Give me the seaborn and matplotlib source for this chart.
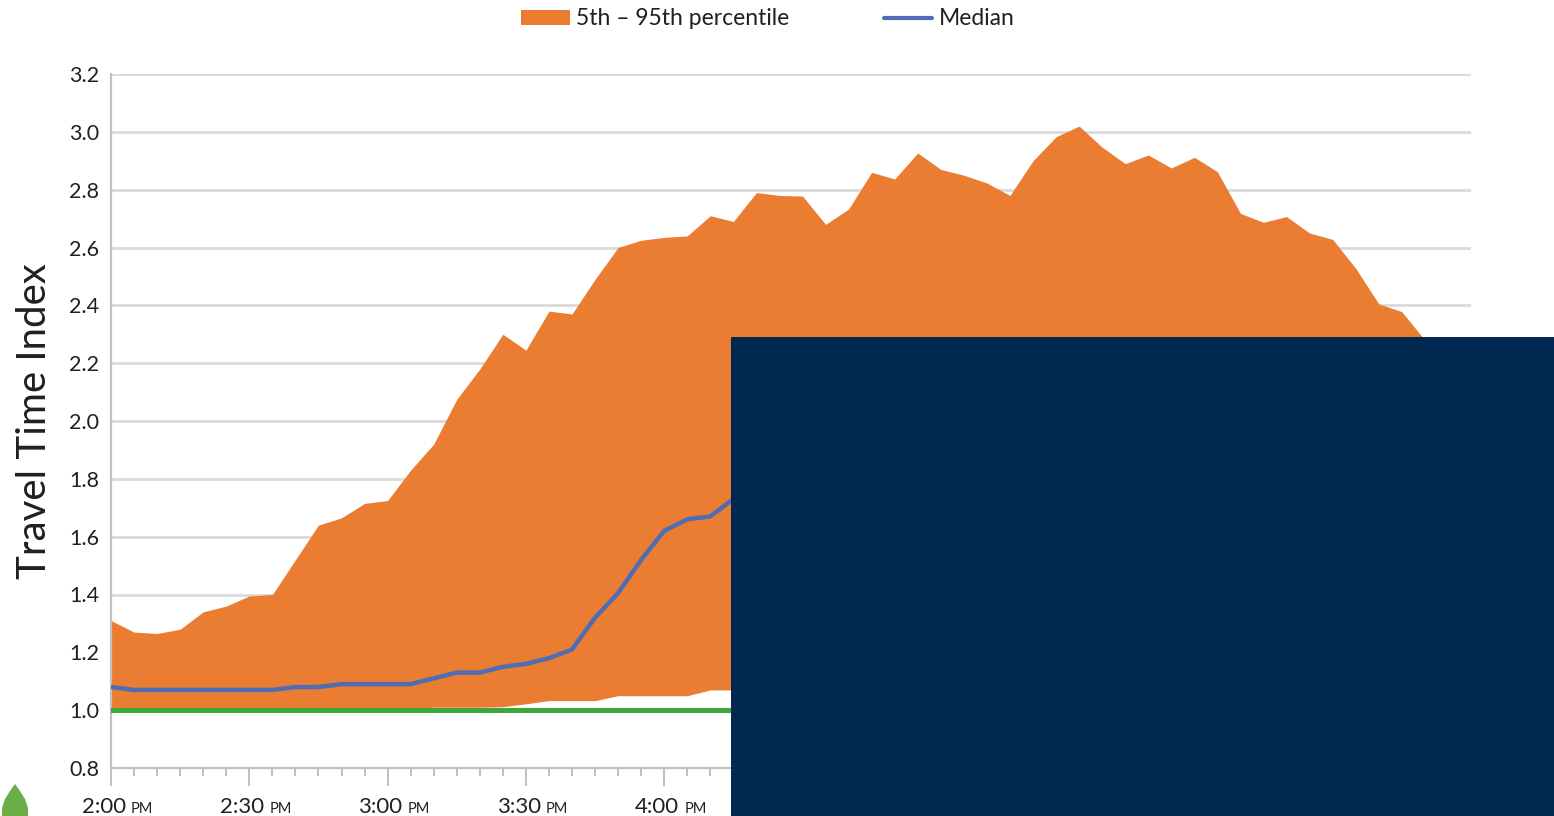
import numpy as np
import pandas as pd
import matplotlib
matplotlib.use("Agg")
import matplotlib.pyplot as plt
import seaborn as sns
from matplotlib.patches import Patch, Rectangle, Polygon
from matplotlib.lines import Line2D
from matplotlib.ticker import MultipleLocator, NullFormatter

# ---------------- data ----------------
# minutes after 2:00 PM, 5-minute intervals (2:00 PM .. 6:55 PM)
minutes = np.arange(0, 300, 5)

p95 = [1.31, 1.27, 1.265, 1.28, 1.34, 1.36, 1.395, 1.40, 1.52, 1.64,
       1.665, 1.715, 1.725, 1.83, 1.92, 2.075, 2.18, 2.30, 2.245, 2.38,
       2.37, 2.49, 2.60, 2.625, 2.635, 2.64, 2.71, 2.69, 2.79, 2.78,
       2.778, 2.68, 2.733, 2.86, 2.837, 2.927, 2.87, 2.85, 2.823, 2.78,
       2.90, 2.983, 3.02, 2.947, 2.89, 2.92, 2.875, 2.912, 2.862, 2.718,
       2.687, 2.707, 2.65, 2.628, 2.528, 2.405, 2.378, 2.28, 2.10, 1.95]

p05 = [1.0, 1.0, 1.0, 1.0, 1.0, 1.0, 1.0, 1.0, 1.0, 1.0,
       1.0, 1.0, 1.0, 1.005, 1.01, 1.01, 1.01, 1.012, 1.022, 1.033,
       1.033, 1.033, 1.05, 1.05, 1.05, 1.05, 1.07, 1.07, 1.08, 1.08,
       1.09, 1.09, 1.10, 1.10, 1.11, 1.11, 1.12, 1.12, 1.12, 1.11,
       1.11, 1.12, 1.12, 1.11, 1.10, 1.10, 1.09, 1.09, 1.08, 1.07,
       1.06, 1.06, 1.05, 1.04, 1.03, 1.02, 1.02, 1.01, 1.01, 1.0]

median = [1.08, 1.07, 1.07, 1.07, 1.07, 1.07, 1.07, 1.07, 1.08, 1.08,
          1.09, 1.09, 1.09, 1.09, 1.11, 1.13, 1.13, 1.15, 1.16, 1.18,
          1.21, 1.32, 1.405, 1.52, 1.62, 1.66, 1.67, 1.73, 1.80, 1.86,
          1.90, 1.88, 1.92, 2.00, 2.02, 2.08, 2.06, 2.05, 2.02, 1.98,
          2.05, 2.12, 2.15, 2.10, 2.04, 2.06, 2.00, 2.02, 1.95, 1.82,
          1.76, 1.74, 1.66, 1.60, 1.50, 1.40, 1.35, 1.28, 1.20, 1.15]

free_flow_tti = 1.0

major_tick_minutes = [0, 30, 60, 90, 120, 150, 180, 210, 240, 270]
major_tick_labels = ["2:00", "2:30", "3:00", "3:30", "4:00", "4:30", "5:00", "5:30", "6:00", "6:30"]
y_ticks = [0.8, 1.0, 1.2, 1.4, 1.6, 1.8, 2.0, 2.2, 2.4, 2.6, 2.8, 3.0, 3.2]

df = pd.DataFrame({"minute": minutes, "p05": p05, "p95": p95, "median": median})

# ---------------- style ----------------
ORANGE = "#EB7D32"
BLUE = "#4F6DB5"
GREEN = "#3DA83A"
NAVY = "#002850"
GRID = "#DADADA"
AXIS = "#C0C0C0"
TEXT = "#231F20"

sns.set_theme(style="white")
plt.rcParams["font.family"] = ["Lato", "DejaVu Sans"]
plt.rcParams["text.color"] = TEXT

W, H = 1554, 816
fig = plt.figure(figsize=(W / 100, H / 100), dpi=100)
fig.patch.set_facecolor("white")

x0, x1 = 111, 111 + 295 * 138.3 / 30
y0, y1 = 768, 74
ax = fig.add_axes([x0 / W, 1 - y0 / H, (x1 - x0) / W, (y0 - y1) / H])
ax.set_facecolor("white")

ax.fill_between(df["minute"], df["p05"], df["p95"], color=ORANGE, lw=0, zorder=2)
ax.axhline(free_flow_tti, color=GREEN, lw=3.6, zorder=3)
sns.lineplot(data=df, x="minute", y="median", color=BLUE, lw=3.2, ax=ax, zorder=4)

ax.set_xlim(0, 295)
ax.set_ylim(0.8, 3.2)
ax.set_yticks(y_ticks)
ax.set_yticklabels([f"{v:.1f}" for v in y_ticks])
ax.yaxis.grid(True, color=GRID, lw=2.0, zorder=0)
ax.xaxis.grid(False)
ax.set_axisbelow(True)

for s in ["top", "right"]:
    ax.spines[s].set_visible(False)
for s in ["left", "bottom"]:
    ax.spines[s].set_color(AXIS)
    ax.spines[s].set_linewidth(1.6)

ax.xaxis.set_major_locator(MultipleLocator(30))
ax.xaxis.set_minor_locator(MultipleLocator(5))
ax.xaxis.set_major_formatter(NullFormatter())
ax.tick_params(axis="x", which="major", length=13, width=1.4, color=AXIS, direction="out", bottom=True)
ax.tick_params(axis="x", which="minor", length=5.8, width=1.4, color=AXIS, direction="out", bottom=True)
ax.tick_params(axis="y", length=0, pad=8.5, labelsize=15.5, labelcolor=TEXT)

for t, lab in zip(major_tick_minutes, major_tick_labels):
    ax.annotate(lab, xy=(t, 0), xycoords=("data", "axes fraction"),
                xytext=(15 * 0.72, -45 * 0.72), textcoords="offset points",
                ha="right", va="baseline", fontsize=16, color=TEXT, annotation_clip=False)
    ax.annotate("PM", xy=(t, 0), xycoords=("data", "axes fraction"),
                xytext=(20 * 0.72, -45 * 0.72), textcoords="offset points",
                ha="left", va="baseline", fontsize=10.5, color=TEXT, annotation_clip=False)

ax.set_xlabel("")
ax.set_ylabel("Travel Time Index", fontsize=29, color=TEXT)
ax.yaxis.set_label_coords((53 - x0) / (x1 - x0), 0.5)

# legend
handles = [Patch(facecolor=ORANGE, edgecolor="none"),
           Line2D([0], [0], color=BLUE, lw=3.0)]
fig.legend(handles, ["5th \u2013 95th percentile", "Median"], loc="upper center",
           bbox_to_anchor=(768 / W, 1.015), ncol=2, frameon=False, fontsize=16.5,
           handlelength=2.1, handleheight=0.6, handletextpad=0.3, columnspacing=4.1)

# overlay box
fig.add_artist(Rectangle((731 / W, 0), (W - 731) / W, (H - 337) / H,
                         transform=fig.transFigure, facecolor=NAVY, edgecolor="none", zorder=20))

# leaf icon
leaf_px = [(15, 784), (20, 791), (25, 799), (28, 808), (28, 816), (2, 816), (2, 808), (5, 799), (10, 791)]
fig.add_artist(Polygon([(px / W, 1 - py / H) for px, py in leaf_px], closed=True,
                       transform=fig.transFigure, facecolor="#6AAE45", edgecolor="none", zorder=5))

fig.savefig("out.png", dpi=100)
